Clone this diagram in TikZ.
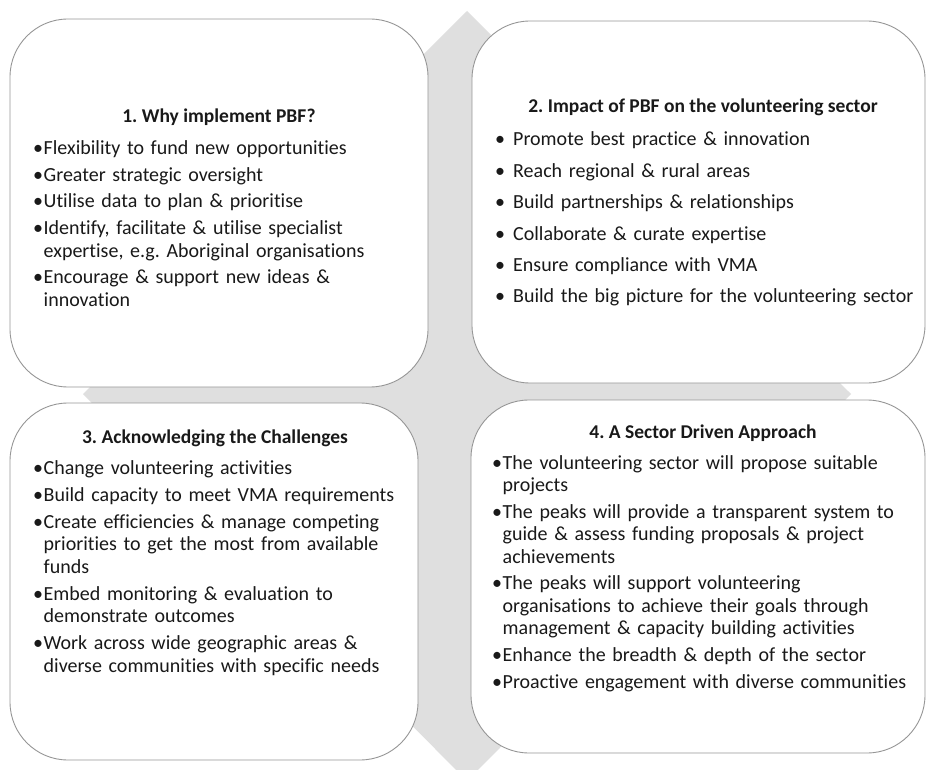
\documentclass[tikz,border=0pt]{standalone}
\usepackage{fontspec}
\setmainfont{Carlito}[Ligatures={NoCommon}]
\usetikzlibrary{positioning}
\frenchspacing
\definecolor{dc}{RGB}{223,223,223}
\definecolor{bc}{RGB}{150,150,150}
\definecolor{tc}{RGB}{25,25,25}
\newlength{\bw}
\newcommand{\itm}[1]{\hangindent=\bw\hangafter=1\noindent\makebox[\bw][l]{\textbullet}#1\par}
\newcommand{\nl}{\hfil\break}
\tikzset{card/.style={draw=bc,fill=white,line width=.9pt,rounded corners=58pt,inner sep=0pt},
 ttl/.style={font=\fontsize{19.5}{23}\selectfont\bfseries,text=tc,anchor=base,inner sep=0pt},
 lst/.style={font=\fontsize{20}{23}\selectfont,text=tc,anchor=base west,inner sep=0pt,align=left},
 diam/.style={fill=dc}}
\begin{document}
\begin{tikzpicture}[x=1pt,y=-1pt]
\useasboundingbox (0,0) rectangle (927,770);
\fill[diam] (467,11)--(851,394)--(467,781)--(83,394)--cycle;
% four cards
\node[card,minimum width=418pt,minimum height=368pt] (c1) at (219,203) {};
\node[card,minimum width=453pt,minimum height=362pt] (c2) at (698.5,202) {};
\node[card,minimum width=408pt,minimum height=357pt] (c3) at (214,581.5) {};
\node[card,minimum width=454pt,minimum height=353pt] (c4) at (698,576.5) {};
% titles
\node[ttl] (h1) at (219,123) {1. Why implement PBF?};
\node[ttl] (h2) at (703,113) {2. Impact of PBF on the volunteering sector};
\node[ttl] (h3) at (215,443) {3. Acknowledging the Challenges};
\node[ttl] (h4) at (703,438) {4. A Sector Driven Approach};
% lists
\node[lst,text width=400pt] (l1) at (33,155) {\setlength{\bw}{10.5pt}\setlength{\baselineskip}{23pt}\setlength{\parskip}{3.5pt}%
\itm{Flexibility to fund new opportunities}
\itm{Greater strategic oversight}
\itm{Utilise data to plan \& prioritise}
\itm{Identify, facilitate \& utilise specialist\nl expertise, e.g. Aboriginal organisations}
\itm{Encourage \& support new ideas \&\nl innovation}};
\node[lst,text width=425pt] (l2) at (495,146) {\setlength{\bw}{18pt}\setlength{\baselineskip}{23pt}\setlength{\parskip}{8.4pt}%
\itm{Promote best practice \& innovation}
\itm{Reach regional \& rural areas}
\itm{Build partnerships \& relationships}
\itm{Collaborate \& curate expertise}
\itm{Ensure compliance with VMA}
\itm{Build the big picture for the volunteering sector}};
\node[lst,text width=380pt] (l3) at (33,474) {\setlength{\bw}{10.5pt}\setlength{\baselineskip}{22.5pt}\setlength{\parskip}{4.5pt}%
\itm{Change volunteering activities}
\itm{Build capacity to meet VMA requirements}
\itm{Create efficiencies \& manage competing\nl priorities to get the most from available\nl funds}
\itm{Embed monitoring \& evaluation to\nl demonstrate outcomes}
\itm{Work across wide geographic areas \&\nl diverse communities with specific needs}};
\node[lst,text width=425pt] (l4) at (492,469) {\setlength{\bw}{10.5pt}\setlength{\baselineskip}{22.5pt}\setlength{\parskip}{4.2pt}%
\itm{The volunteering sector will propose suitable\nl projects}
\itm{The peaks will provide a transparent system to\nl guide \& assess funding proposals \& project\nl achievements}
\itm{The peaks will support volunteering\nl organisations to achieve their goals through\nl management \& capacity building activities}
\itm{Enhance the breadth \& depth of the sector}
\itm{Proactive engagement with diverse communities}};
\end{tikzpicture}
\end{document}
